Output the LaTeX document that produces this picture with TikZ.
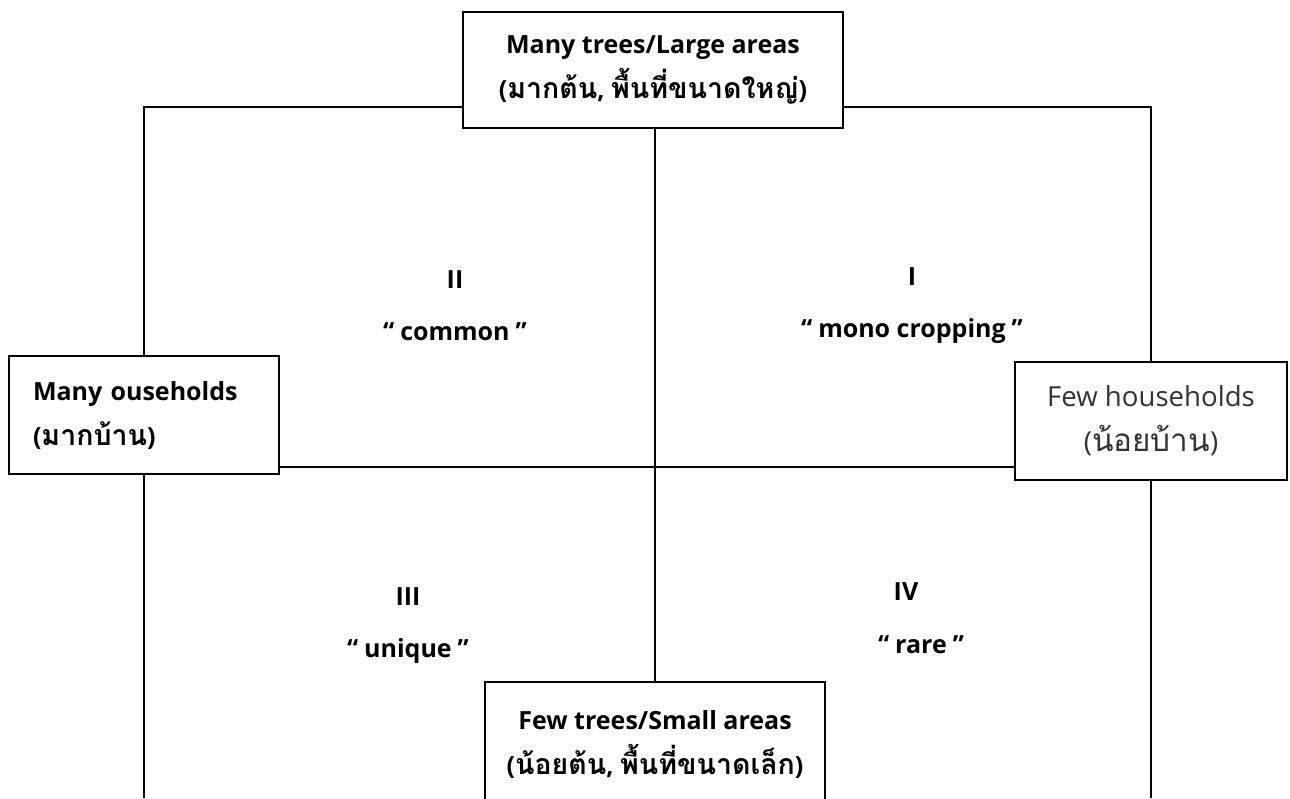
\documentclass[tikz,border=0pt]{standalone}
\usepackage{fontspec}
\setmainfont{Open Sans}
\newfontfamily\thai[Script=Thai,Scale=1.14]{Loma}
\newcommand{\qq}[1]{“\hspace{3pt}#1\hspace{3pt}”}
\begin{document}
\begin{tikzpicture}[x=0.5pt,y=-0.5pt,
  box/.style={draw=black,line width=1pt,fill=white,inner sep=0pt,align=center,font=\bfseries\fontsize{12.5}{22.5}\selectfont},
  conn/.style={draw=black,line width=0.9pt},
  lbl/.style={align=center,font=\bfseries\fontsize{12.5}{26}\selectfont}]
\useasboundingbox (0,0) rectangle (1290,798);
\clip (0,0) rectangle (1290,798);
\node[box,minimum width=190pt,minimum height=58pt] (top) at (653,70) {Many trees/Large areas\\({\thai มากต้น}, {\thai พื้นที่ขนาดใหญ่})};
\node[box,minimum width=135pt,minimum height=59pt,align=left,text width=111pt] (left) at (144,415) {Many ouseholds\\({\thai มากบ้าน})};
\node[box,minimum width=136pt,minimum height=59pt,font=\fontsize{13.8}{22.5}\selectfont,text=black!80] (right) at (1151,421) {Few households\\({\thai น้อยบ้าน})};
\node[box,minimum width=170pt,minimum height=62pt] (bottom) at (655,744) {Few trees/Small areas\\({\thai น้อยต้น}, {\thai พื้นที่ขนาดเล็ก})};
\coordinate (hl) at (0,107);
\coordinate (mid) at (0,467);
\coordinate (bl) at (144,798);
\coordinate (br) at (1151,798);
\draw[conn] (top.west |- hl) -| (left.north);
\draw[conn] (top.east |- hl) -| (right.north);
\draw[conn] (left.south) -- (bl);
\draw[conn] (right.south) -- (br);
\draw[conn] (left.east |- mid) -- (right.west |- mid);
\draw[conn] (top.south -| bottom.north) -- (bottom.north);
\node[lbl] (q2) at (455,306) {II\\\qq{common}};
\node[lbl] (q1) at (912,306) {I\\\qq{mono cropping}};
\node[lbl] (q3) at (408,626) {III\\\qq{unique}};
\node[lbl] (q4) at (906,592) {IV};
\node[lbl] (q4b) at (921,645) {\qq{rare}};
\end{tikzpicture}
\end{document}
